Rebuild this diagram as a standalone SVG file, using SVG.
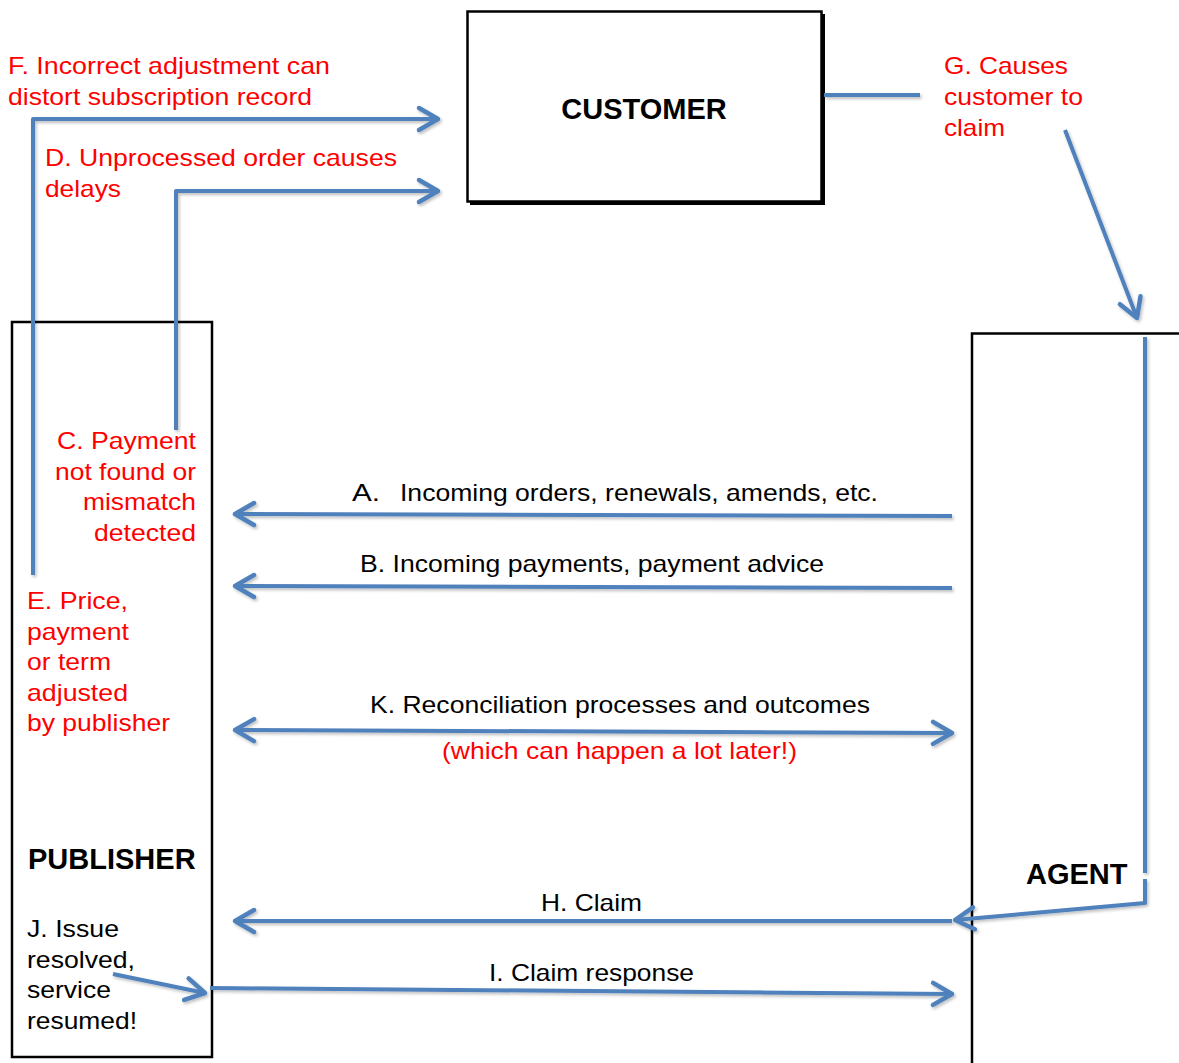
<svg xmlns="http://www.w3.org/2000/svg" width="1179" height="1063" viewBox="0 0 1179 1063">
<style>
.t{font-family:"Liberation Sans",Arial,sans-serif;font-size:24px;fill:#000}
.r{fill:#ff0000}
.b{font-weight:bold;font-size:29px}
.c{fill:none;stroke:#4f81bd;stroke-width:4;stroke-linejoin:round}
.box{fill:#fff;stroke:#000;stroke-width:2.5}
</style>
<defs>
<marker id="ah" markerUnits="userSpaceOnUse" viewBox="-24 -14 30 28" markerWidth="30" markerHeight="28" refX="0" refY="0" orient="auto-start-reverse" overflow="visible">
<path d="M-19,-11 L0,0 L-19,11" fill="none" stroke="#4f81bd" stroke-width="4.5" stroke-linecap="round" stroke-linejoin="round"/>
</marker>
<filter id="sh" x="-10%" y="-10%" width="120%" height="120%">
<feDropShadow dx="1.5" dy="2" stdDeviation="1.5" flood-color="#000" flood-opacity="0.25"/>
</filter>
</defs>
<g id="customer">
<rect x="470" y="14" width="355" height="191" fill="#000"/>
<rect class="box" x="467.5" y="11.5" width="354" height="190"/>
<text class="t b" x="644" y="119" text-anchor="middle">CUSTOMER</text>
</g>
<g id="publisher">
<rect class="box" x="12" y="322" width="200" height="735"/>
<text class="t b" x="28" y="869">PUBLISHER</text>
</g>
<g id="agent">
<path d="M972,1063 L972,333.5 L1179,333.5" fill="none" stroke="#000" stroke-width="2.5"/>
<text class="t b" x="1026" y="884">AGENT</text>
</g>
<g id="connectors" filter="url(#sh)">
<path class="c" d="M824,95 L920,95"/>
<path class="c" d="M1065,130 L1137,318" marker-end="url(#ah)"/>
<path class="c" d="M1145,337 L1145,873"/>
<path class="c" d="M1145,879 L1145,903 L955,920" marker-end="url(#ah)"/>
<path class="c" d="M952,921 L235,921" marker-end="url(#ah)"/>
<path class="c" d="M210,988 L952,994" marker-end="url(#ah)"/>
<path class="c" d="M113,974 L205,993" marker-end="url(#ah)"/>
<path class="c" d="M952,516 L235,514" marker-end="url(#ah)"/>
<path class="c" d="M952,588 L235,586" marker-end="url(#ah)"/>
<path class="c" d="M235,730 L952,733" marker-start="url(#ah)" marker-end="url(#ah)"/>
<path class="c" d="M33,575 L33,119 L438,119" marker-end="url(#ah)"/>
<path class="c" d="M176,430 L176,191 L438,191" marker-end="url(#ah)"/>
</g>
<g id="labels" lengthAdjust="spacingAndGlyphs">
<text class="t r" x="8" y="74" textLength="322" lengthAdjust="spacingAndGlyphs">F. Incorrect adjustment can</text>
<text class="t r" x="8" y="105" textLength="304" lengthAdjust="spacingAndGlyphs">distort subscription record</text>
<text class="t r" x="45" y="166" textLength="352" lengthAdjust="spacingAndGlyphs">D. Unprocessed order causes</text>
<text class="t r" x="45" y="197" textLength="76" lengthAdjust="spacingAndGlyphs">delays</text>
<text class="t r" x="944" y="74" textLength="124" lengthAdjust="spacingAndGlyphs">G. Causes</text>
<text class="t r" x="944" y="105" textLength="139" lengthAdjust="spacingAndGlyphs">customer to</text>
<text class="t r" x="944" y="136" textLength="61" lengthAdjust="spacingAndGlyphs">claim</text>
<text class="t r" x="57" y="449" textLength="139" lengthAdjust="spacingAndGlyphs">C. Payment</text>
<text class="t r" x="55" y="480" textLength="141" lengthAdjust="spacingAndGlyphs">not found or</text>
<text class="t r" x="83" y="510" textLength="113" lengthAdjust="spacingAndGlyphs">mismatch</text>
<text class="t r" x="94" y="541" textLength="102" lengthAdjust="spacingAndGlyphs">detected</text>
<text class="t r" x="27" y="609" textLength="101" lengthAdjust="spacingAndGlyphs">E. Price,</text>
<text class="t r" x="27" y="640" textLength="102" lengthAdjust="spacingAndGlyphs">payment</text>
<text class="t r" x="27" y="670" textLength="84" lengthAdjust="spacingAndGlyphs">or term</text>
<text class="t r" x="27" y="701" textLength="101" lengthAdjust="spacingAndGlyphs">adjusted</text>
<text class="t r" x="27" y="731" textLength="143" lengthAdjust="spacingAndGlyphs">by publisher</text>
<text class="t" x="352" y="501" textLength="28" lengthAdjust="spacingAndGlyphs">A.</text>
<text class="t" x="400" y="501" textLength="478" lengthAdjust="spacingAndGlyphs">Incoming orders, renewals, amends, etc.</text>
<text class="t" x="360" y="572" textLength="464" lengthAdjust="spacingAndGlyphs">B. Incoming payments, payment advice</text>
<text class="t" x="370" y="713" textLength="500" lengthAdjust="spacingAndGlyphs">K. Reconciliation processes and outcomes</text>
<text class="t r" x="442" y="759" textLength="355" lengthAdjust="spacingAndGlyphs">(which can happen a lot later!)</text>
<text class="t" x="541" y="911" textLength="101" lengthAdjust="spacingAndGlyphs">H. Claim</text>
<text class="t" x="489" y="981" textLength="205" lengthAdjust="spacingAndGlyphs">I. Claim response</text>
<text class="t" x="27" y="937" textLength="92" lengthAdjust="spacingAndGlyphs">J. Issue</text>
<text class="t" x="27" y="968" textLength="108" lengthAdjust="spacingAndGlyphs">resolved,</text>
<text class="t" x="27" y="998" textLength="84" lengthAdjust="spacingAndGlyphs">service</text>
<text class="t" x="27" y="1029" textLength="110" lengthAdjust="spacingAndGlyphs">resumed!</text>
</g>
</svg>
